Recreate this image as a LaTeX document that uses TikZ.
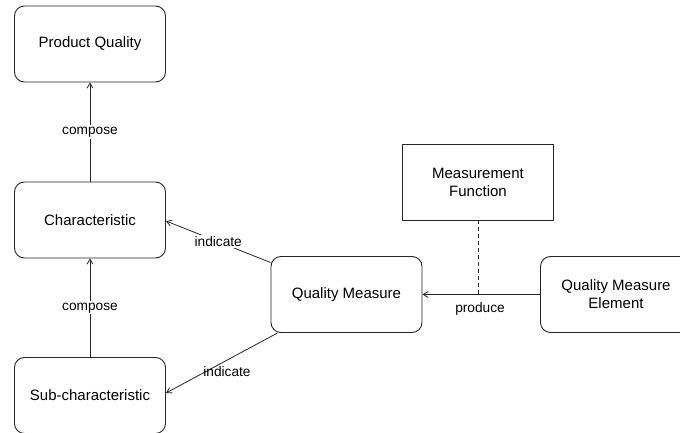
\documentclass[tikz,border=0pt]{standalone}
\usepackage{fontspec}
\setmainfont{Liberation Sans}
\usetikzlibrary{arrows.meta}
\begin{document}
\begin{tikzpicture}[x=1pt,y=-1pt,
  box/.style={draw=black!85, line width=0.9pt, rounded corners=10pt, minimum width=151pt, minimum height=76pt, align=center, font=\fontsize{15}{18}\selectfont, inner sep=0pt},
  sqbox/.style={box, rounded corners=0pt},
  conn/.style={draw=black!85, line width=0.8pt},
  arr/.style={conn, -{Straight Barb[length=5pt,width=6pt,line width=0.8pt]}},
  lab/.style={fill=white, inner sep=1.5pt, font=\fontsize{13.7}{16}\selectfont},
  plainlab/.style={inner sep=0pt, font=\fontsize{13.7}{16}\selectfont}]
\useasboundingbox (0,0) rectangle (680,433);
\clip (0,0) rectangle (680,433);
\fill[white] (0,0) rectangle (680,433);
\node[box] (pq) at (90,44) {Product Quality};
\node[box] (ch) at (90,220) {Characteristic};
\node[box] (sc) at (90,395.5) {Sub-characteristic};
\node[box] (qm) at (346.5,294.5) {Quality Measure};
\node[sqbox] (mf) at (478,182) {Measurement\\Function};
\node[box] (qme) at (616,294.5) {Quality Measure\\Element};
\coordinate (j) at (mf.south |- qm.east);
\draw[arr] (ch.north) -- node[lab] {compose} (pq.south);
\draw[arr] (sc.north) -- node[lab] {compose} (ch.north |- ch.south);
\draw[arr] ([yshift=32pt]qm.west) -- node[lab, pos=0.5] {indicate} ([yshift=-1pt]ch.east);
\draw[arr] ([xshift=7pt]qm.south west) -- ([yshift=2.5pt]sc.east);
\node[plainlab] (il) at (227,372) {indicate};
\draw[arr] (qme.west) -- (qm.east);
\node[plainlab] (pl) at (480,308.5) {produce};
\draw[conn, dashed, dash pattern=on 4pt off 3pt] (mf.south) -- (j);
\end{tikzpicture}
\end{document}
